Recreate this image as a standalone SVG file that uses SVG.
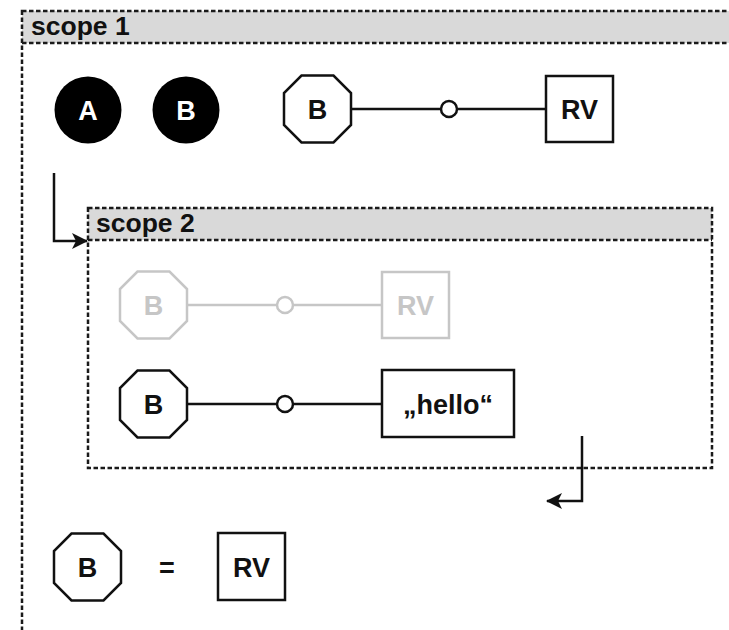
<svg xmlns="http://www.w3.org/2000/svg" width="729" height="630" viewBox="0 0 729 630">
  <defs>
    <style>
      .scope { fill: none; stroke: #1a1a1a; stroke-width: 2.5; stroke-dasharray: 4.5 2.5; }
      .head { fill: #d9d9d9; stroke: none; }
      .title { font-family: "Liberation Sans", Arial, sans-serif; font-weight: bold; font-size: 26.5px; fill: #111; }
      .lbl { font-family: "Liberation Sans", Arial, sans-serif; font-weight: bold; font-size: 27px; fill: #111; text-anchor: middle; }
      .lbl-w { fill: #fff; }
      .lbl-g { fill: #c6c6c6; }
      .shape { fill: #fff; stroke: #111; stroke-width: 2.5; }
      .shape-g { fill: #fff; stroke: #c6c6c6; stroke-width: 2.5; }
      .wire { fill: none; stroke: #111; stroke-width: 2.5; }
      .wire-g { fill: none; stroke: #c6c6c6; stroke-width: 2.5; }
      .flow { fill: none; stroke: #111; stroke-width: 2.5; }
    </style>
    <marker id="arrow" viewBox="0 0 16 16" refX="15" refY="8" markerWidth="16" markerHeight="16" markerUnits="userSpaceOnUse" orient="auto">
      <path d="M0,0 L16,8 L0,16 L4,8 Z" fill="#111"/>
    </marker>
    <!-- octagon outline, 67 x 67, centred on the origin -->
    <polygon id="oct" points="-16,-33.5 16,-33.5 33.5,-16 33.5,16 16,33.5 -16,33.5 -33.5,16 -33.5,-16"/>
  </defs>

  <rect width="729" height="630" fill="#fff"/>

  <!-- outer scope -->
  <g id="scope1">
    <rect class="head" x="22" y="11" width="720" height="32"/>
    <rect class="scope" x="22" y="11" width="720" height="640"/>
    <line class="scope" x1="22" y1="43" x2="742" y2="43"/>
    <text class="title" x="31" y="35">scope 1</text>
  </g>

  <!-- inner scope -->
  <g id="scope2">
    <rect class="head" x="88" y="208" width="624" height="32"/>
    <rect class="scope" x="88" y="208" width="624" height="260"/>
    <line class="scope" x1="88" y1="240" x2="712" y2="240"/>
    <text class="title" x="96" y="232">scope 2</text>
  </g>

  <!-- connectors -->
  <g id="connectors">
    <path class="wire" d="M352,109 H440 M458,109 H546"/>
    <circle class="shape" cx="449" cy="109" r="8"/>
    <path class="wire-g" d="M187,305 H276 M294,305 H382"/>
    <circle class="shape-g" cx="285" cy="305" r="8"/>
    <path class="wire" d="M187,404 H276 M294,404 H382"/>
    <circle class="shape" cx="285" cy="404" r="8"/>
    <path class="flow" d="M54,173 V241 H87" marker-end="url(#arrow)"/>
    <path class="flow" d="M582,436 V501 H547" marker-end="url(#arrow)"/>
  </g>

  <!-- scope 1 nodes -->
  <g id="nodeA">
    <circle cx="88" cy="110" r="33.5" fill="#000"/>
    <text class="lbl lbl-w" x="88" y="119.5">A</text>
  </g>
  <g id="nodeB">
    <circle cx="186" cy="110" r="33.5" fill="#000"/>
    <text class="lbl lbl-w" x="186" y="119.5">B</text>
  </g>
  <g id="octB1">
    <use href="#oct" class="shape" x="317.5" y="109"/>
    <text class="lbl" x="317.5" y="118.5">B</text>
  </g>
  <g id="rv1">
    <rect class="shape" x="546" y="76" width="67" height="66"/>
    <text class="lbl" x="579.5" y="118.5">RV</text>
  </g>

  <!-- scope 2 nodes, shadowed binding -->
  <g id="octB2g">
    <use href="#oct" class="shape-g" x="153.5" y="305"/>
    <text class="lbl lbl-g" x="153.5" y="314.5">B</text>
  </g>
  <g id="rv2g">
    <rect class="shape-g" x="382" y="272" width="67" height="66"/>
    <text class="lbl lbl-g" x="415.5" y="314.5">RV</text>
  </g>

  <!-- scope 2 nodes, active binding -->
  <g id="octB2">
    <use href="#oct" class="shape" x="153.5" y="404"/>
    <text class="lbl" x="153.5" y="413.5">B</text>
  </g>
  <g id="hello">
    <rect class="shape" x="382" y="370" width="132" height="67"/>
    <text class="lbl" x="448" y="413.5">„hello“</text>
  </g>

  <!-- result after leaving scope 2 -->
  <g id="octB3">
    <use href="#oct" class="shape" x="87.5" y="567"/>
    <text class="lbl" x="87.5" y="576.5">B</text>
  </g>
  <g id="eq">
    <text class="lbl" x="167" y="576.5">=</text>
  </g>
  <g id="rv3">
    <rect class="shape" x="218" y="533" width="67" height="67"/>
    <text class="lbl" x="251.5" y="576.5">RV</text>
  </g>
</svg>
